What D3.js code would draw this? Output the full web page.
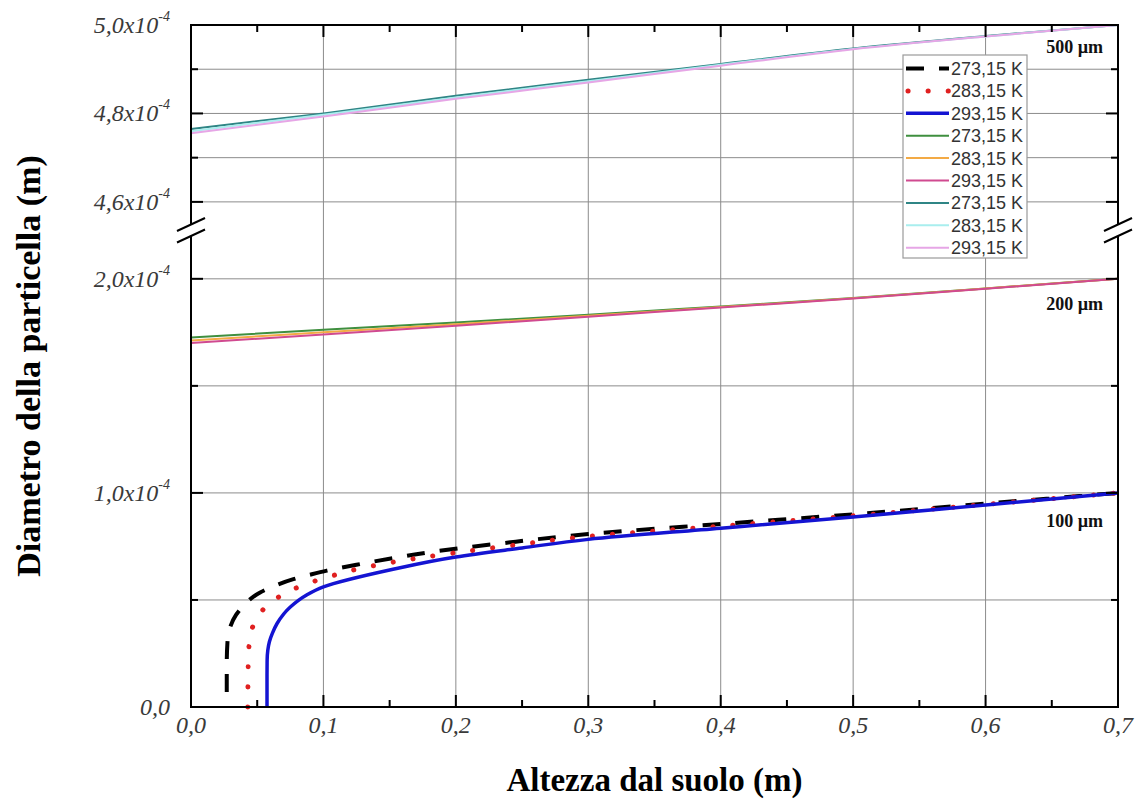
<!DOCTYPE html>
<html>
<head>
<meta charset="utf-8">
<script src="https://cdn.jsdelivr.net/npm/d3@7"></script>
<style>
  html, body { margin: 0; padding: 0; background: #fff; }
  svg { display: block; }
</style>
</head>
<body>
<svg id="chart" width="1140" height="805"></svg>
<script>
// Heights above ground (m) and particle diameters (units of 1e-4 m)

// 100 µm droplets
const h100_273 = [0.027, 0.027, 0.0275, 0.030, 0.034, 0.0395, 0.0522, 0.0648, 0.0773, 0.0912, 0.1026, 0.129, 0.154, 0.179, 0.2046, 0.231, 0.30, 0.40, 0.50, 0.60, 0.70];
const d100_273 = [0, 0.20, 0.30, 0.38, 0.43, 0.472, 0.535, 0.570, 0.597, 0.620, 0.637, 0.669, 0.697, 0.722, 0.743, 0.762, 0.808, 0.855, 0.900, 0.950, 1.0];
const h100_283 = [0.0429, 0.0432, 0.0440, 0.0478, 0.0597, 0.0748, 0.090, 0.1063, 0.120, 0.152, 0.198, 0.243, 0.30, 0.40, 0.50, 0.60, 0.70];
const d100_283 = [0, 0.20, 0.30, 0.391, 0.485, 0.543, 0.581, 0.612, 0.636, 0.676, 0.719, 0.755, 0.797, 0.845, 0.893, 0.946, 1.0];
const h100_293 = [0.0574, 0.0574, 0.0575, 0.0580, 0.0592, 0.0615, 0.065, 0.075, 0.087, 0.10, 0.15, 0.20, 0.25, 0.30, 0.40, 0.50, 0.60, 0.70];
const d100_293 = [0, 0.15, 0.22, 0.265, 0.305, 0.345, 0.390, 0.467, 0.522, 0.561, 0.640, 0.701, 0.743, 0.783, 0.835, 0.888, 0.944, 1.0];

// 200 µm and 500 µm droplets
const hGrid = [0, 0.1, 0.2, 0.3, 0.4, 0.5, 0.6, 0.7];
const d200_273 = [1.726, 1.762, 1.796, 1.832, 1.871, 1.910, 1.955, 2.0];
const d200_283 = [1.712, 1.750, 1.788, 1.827, 1.868, 1.909, 1.955, 2.0];
const d200_293 = [1.700, 1.740, 1.781, 1.823, 1.866, 1.908, 1.954, 2.0];
const d500_273 = [4.765, 4.800, 4.840, 4.876, 4.912, 4.947, 4.975, 5.0];
const d500_283 = [4.760, 4.797, 4.836, 4.873, 4.910, 4.946, 4.974, 5.0];
const d500_293 = [4.755, 4.793, 4.833, 4.870, 4.908, 4.945, 4.974, 5.0];

// Axis ticks
const xMajor = [0, 0.1, 0.2, 0.3, 0.4, 0.5, 0.6, 0.7];
const xMinor = [0.05, 0.15, 0.25, 0.35, 0.45, 0.55, 0.65];
const xTickLabels = ["0,0", "0,1", "0,2", "0,3", "0,4", "0,5", "0,6", "0,7"];
const yLowMajor = [0, 1.0, 2.0];
const yLowMinor = [0.5, 1.5];
const yLowLabels = ["0,0", "1,0x10", "2,0x10"];
const yHighMajor = [4.6, 4.8, 5.0];
const yHighMinor = [4.7, 4.9];
const yHighLabels = ["4,6x10", "4,8x10", "5,0x10"];

const legendLabels = ["273,15 K", "283,15 K", "293,15 K", "273,15 K", "283,15 K", "293,15 K", "273,15 K", "283,15 K", "293,15 K"];
const sizeLabels = ["500 µm", "200 µm", "100 µm"];

const svg = d3.select("#chart");
const L = 191, R = 1118, T = 25, B = 707;

const x = d3.scaleLinear().domain([0, 0.7]).range([L, R]);
const yLow = d3.scaleLinear().domain([0, 2.2]).range([B, 236]);
const yHigh = d3.scaleLinear().domain([4.55, 5.0]).range([224, T]);

// Grid
const grid = svg.append("g").attr("stroke", "#8c8c8c").attr("stroke-width", 1);
xMajor.filter(v => v > 0 && v < 0.7).forEach(v => {
  grid.append("line").attr("x1", x(v)).attr("x2", x(v)).attr("y1", T).attr("y2", B);
});
yLowMajor.concat(yLowMinor).filter(v => v > 0).forEach(v => {
  grid.append("line").attr("x1", L).attr("x2", R).attr("y1", yLow(v)).attr("y2", yLow(v));
});
yHighMajor.concat(yHighMinor).filter(v => v < 5.0).forEach(v => {
  grid.append("line").attr("x1", L).attr("x2", R).attr("y1", yHigh(v)).attr("y2", yHigh(v));
});

// Series (the 100 µm curves rise vertically, so they are smoothed along y)
const series = [
  { h: hGrid, d: d500_273, y: yHigh, color: "#2f8585", width: 2, curve: d3.curveMonotoneX },
  { h: hGrid, d: d500_283, y: yHigh, color: "#a9eeee", width: 2, curve: d3.curveMonotoneX },
  { h: hGrid, d: d500_293, y: yHigh, color: "#e6a6e6", width: 2, curve: d3.curveMonotoneX },
  { h: hGrid, d: d200_273, y: yLow, color: "#3f8f3f", width: 2, curve: d3.curveMonotoneX },
  { h: hGrid, d: d200_283, y: yLow, color: "#f3aa45", width: 2, curve: d3.curveMonotoneX },
  { h: hGrid, d: d200_293, y: yLow, color: "#d04a90", width: 2, curve: d3.curveMonotoneX },
  { h: h100_273, d: d100_273, y: yLow, color: "#000000", width: 4, dash: "18,15", offset: 18, curve: d3.curveMonotoneY },
  { h: h100_283, d: d100_283, y: yLow, color: "#e02020", width: 5, dash: "0.1,20", cap: "round", curve: d3.curveMonotoneY },
  { h: h100_293, d: d100_293, y: yLow, color: "#1414d2", width: 3.5, curve: d3.curveMonotoneY }
];

const curves = svg.append("g").attr("fill", "none");
series.forEach(s => {
  const pts = s.h.map((hv, i) => [hv, s.d[i]]);
  const line = d3.line().x(p => x(p[0])).y(p => s.y(p[1])).curve(s.curve);
  const p = curves.append("path").attr("d", line(pts))
    .attr("stroke", s.color).attr("stroke-width", s.width)
    .attr("stroke-linejoin", "round");
  if (s.dash) p.attr("stroke-dasharray", s.dash);
  if (s.offset) p.attr("stroke-dashoffset", s.offset);
  if (s.cap) p.attr("stroke-linecap", s.cap);
});

// Frame
const ax = svg.append("g").attr("stroke", "#000").attr("stroke-width", 2).attr("fill", "none");
ax.append("rect").attr("x", L).attr("y", T).attr("width", R - L).attr("height", B - T);

// Ticks (inward on all four sides)
const tk = svg.append("g").attr("stroke", "#000").attr("stroke-width", 2);
const MAJ = 12, MIN = 7;
xMajor.forEach(v => {
  tk.append("line").attr("x1", x(v)).attr("x2", x(v)).attr("y1", B).attr("y2", B - MAJ);
  tk.append("line").attr("x1", x(v)).attr("x2", x(v)).attr("y1", T).attr("y2", T + MAJ);
});
xMinor.forEach(v => {
  tk.append("line").attr("x1", x(v)).attr("x2", x(v)).attr("y1", B).attr("y2", B - MIN);
  tk.append("line").attr("x1", x(v)).attr("x2", x(v)).attr("y1", T).attr("y2", T + MIN);
});
function yTick(yy, len) {
  tk.append("line").attr("x1", L).attr("x2", L + len).attr("y1", yy).attr("y2", yy);
  tk.append("line").attr("x1", R).attr("x2", R - len).attr("y1", yy).attr("y2", yy);
}
yLowMajor.forEach(v => yTick(yLow(v), MAJ));
yLowMinor.forEach(v => yTick(yLow(v), MIN));
yHighMajor.forEach(v => yTick(yHigh(v), MAJ));
yHighMinor.forEach(v => yTick(yHigh(v), MIN));

// Axis break marks
const yb1 = 224.5, yb2 = 236;
[L, R].forEach(cx => {
  svg.append("polygon")
    .attr("points", [[cx - 14, yb1 + 6.5], [cx + 14, yb1 - 6.5], [cx + 14, yb2 - 6.5], [cx - 14, yb2 + 6.5]].map(p => p.join(",")).join(" "))
    .attr("fill", "#fff");
  [yb1, yb2].forEach(yy => {
    svg.append("line").attr("x1", cx - 14).attr("y1", yy + 6.5).attr("x2", cx + 14).attr("y2", yy - 6.5)
      .attr("stroke", "#000").attr("stroke-width", 2);
  });
});

// Tick labels
const tf = "'Liberation Serif', 'Times New Roman', serif";
const tl = svg.append("g").attr("font-family", tf).attr("font-style", "italic").attr("font-size", 24).attr("fill", "#3a3a3a");
xMajor.forEach((v, i) => {
  tl.append("text").attr("x", x(v)).attr("y", 733).attr("text-anchor", "middle").text(xTickLabels[i]);
});
function yLabel(yy, label) {
  const t = tl.append("text").attr("x", 170).attr("y", yy + 8).attr("text-anchor", "end");
  if (label === "0,0") { t.text(label); return; }
  t.append("tspan").text(label);
  t.append("tspan").attr("font-size", 14).attr("dy", -12).text("-4");
}
yLowMajor.forEach((v, i) => yLabel(yLow(v), yLowLabels[i]));
yHighMajor.forEach((v, i) => yLabel(yHigh(v), yHighLabels[i]));

// Axis titles
svg.append("text").attr("x", (L + R) / 2).attr("y", 791).attr("text-anchor", "middle")
  .attr("font-family", tf).attr("font-weight", "bold").attr("font-size", 33).attr("fill", "#000")
  .text("Altezza dal suolo (m)");
svg.append("text").attr("transform", `translate(40,${(T + B) / 2}) rotate(-90)`).attr("text-anchor", "middle")
  .attr("font-family", tf).attr("font-weight", "bold").attr("font-size", 34).attr("fill", "#000")
  .text("Diametro della particella (m)");

// Size annotations
const sizeY = [53, 310, 527];
sizeLabels.forEach((s, i) => {
  svg.append("text").attr("x", 1103).attr("y", sizeY[i]).attr("text-anchor", "end")
    .attr("font-family", tf).attr("font-weight", "bold").attr("font-size", 18).attr("fill", "#111")
    .text(s);
});

// Legend
const lg = svg.append("g");
lg.append("rect").attr("x", 903).attr("y", 55).attr("width", 124).attr("height", 203)
  .attr("fill", "#fff").attr("stroke", "#9a9a9a").attr("stroke-width", 1.2);
const legendOrder = [6, 7, 8, 3, 4, 5, 0, 1, 2];
legendOrder.forEach((si, i) => {
  const s = series[si];
  const yy = 68.5 + i * 22.4;
  const ln = lg.append("line").attr("x1", 906).attr("x2", 949).attr("y1", yy).attr("y2", yy)
    .attr("stroke", s.color).attr("stroke-width", s.width);
  if (s.dash) ln.attr("stroke-dasharray", s.dash);
  if (s.cap) ln.attr("stroke-linecap", s.cap).attr("stroke-dashoffset", -2);
  lg.append("text").attr("x", 951).attr("y", yy).attr("dy", "0.36em")
    .attr("font-family", "'Liberation Sans', Arial, sans-serif").attr("font-size", 18).attr("fill", "#333")
    .text(legendLabels[i]);
});
</script>
</body>
</html>
